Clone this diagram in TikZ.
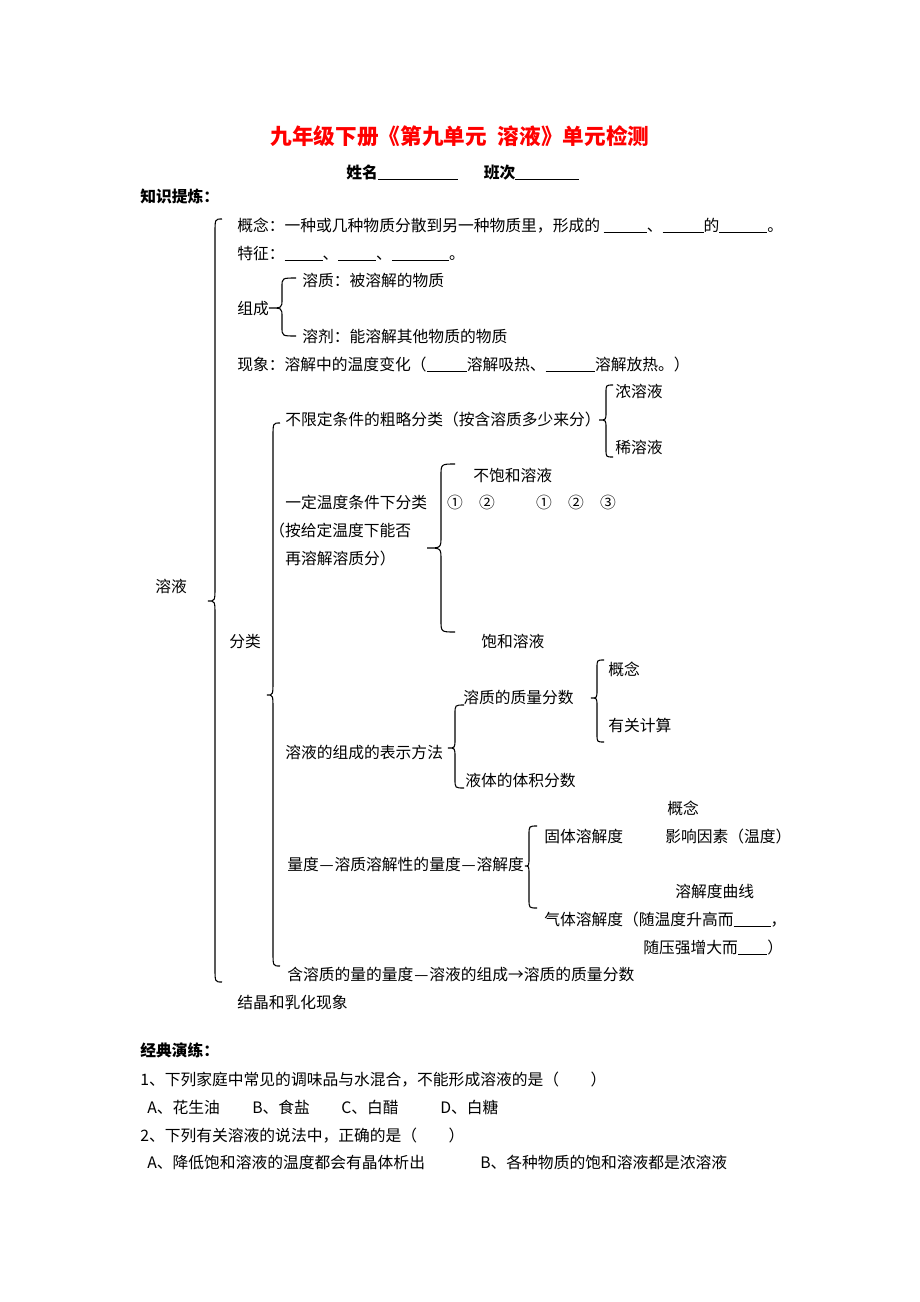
\documentclass[tikz,border=0pt]{standalone}
\usepackage{fontspec}
\setmainfont{Noto Sans CJK SC}
\usepackage{tikz}

\newcommand{\blankfill}[1]{\rule[-1pt]{#1pt}{0.5pt}}
\newcommand{\wdash}{\makebox[1em]{—}}
\newcommand{\warrow}{\makebox[1em]{→}}
% curly brace: end x, shaft x, tip x, top y, tip y, bottom y, radius
\newcommand{\drawbrace}[7]{%
  \draw[bline] (#1,#4) .. controls (#2,#4) .. (#2,{#4+#7}) -- (#2,{#5-#7})
    .. controls (#2,#5) .. (#3,#5) .. controls (#2,#5) .. (#2,{#5+#7})
    -- (#2,{#6-#7}) .. controls (#2,#6) .. (#1,#6);}

\begin{document}
\begin{tikzpicture}[
    x=0.6467pt, y=-0.6467pt,
    txt/.style = {anchor=base west, inner sep=0pt, font=\fontsize{10.2}{12}\selectfont},
    head/.style = {txt, font=\fontsize{10.2}{12}\selectfont\bfseries},
    bline/.style = {line width=0.7pt}
  ]
  \useasboundingbox (0,0) rectangle (920,1302);

  % heading
  \node[anchor=base, inner sep=0pt, text=red, font=\fontsize{14}{16}\selectfont\bfseries] (title) at (460,144) {九年级下册《第九单元\hspace{0.5em}溶液》单元检测};
  \node[head] (student) at (346,178) {姓名\blankfill{52}\hspace{16.5pt}班次\blankfill{41}};
  \node[head] (zhishi) at (140,202) {知识提炼：};

  % first group
  \node[txt] (gainian) at (237,231) {概念：一种或几种物质分散到另一种物质里，形成的 \blankfill{28}、\blankfill{26.5}的\blankfill{31}。};
  \node[txt] (tezheng) at (237,259) {特征：\blankfill{24.5}、\blankfill{24.5}、\blankfill{37}。};
  \node[txt] (rongzhi) at (302,286) {溶质：被溶解的物质};
  \node[txt] (zucheng) at (237,314) {组成};
  \node[txt] (rongji) at (302,342) {溶剂：能溶解其他物质的物质};
  \node[txt] (xianxiang) at (237,370) {现象：溶解中的温度变化（\blankfill{26}溶解吸热、\blankfill{32}溶解放热。）};

  % classification
  \node[txt] (nong) at (615,397) {浓溶液};
  \node[txt] (culue) at (285,425) {不限定条件的粗略分类（按含溶质多少来分）};
  \node[txt] (xi) at (615,453) {稀溶液};
  \node[txt] (bubaohe) at (473,481) {不饱和溶液};
  \node[txt] (yiding) at (285,508) {一定温度条件下分类};
  \node[txt, anchor=base] (c1) at (455,508) {①};
  \node[txt, anchor=base] (c2) at (487,508) {②};
  \node[txt, anchor=base] (c3) at (544,508) {①};
  \node[txt, anchor=base] (c4) at (576,508) {②};
  \node[txt, anchor=base] (c5) at (608,508) {③};
  \node[txt] (anji) at (269,536) {（按给定温度下能否};
  \node[txt] (zairong) at (285,564) {再溶解溶质分）};
  \node[txt] (rongye) at (155,592) {溶液};
  \node[txt] (fenlei) at (229,647) {分类};
  \node[txt] (baohe) at (481,647) {饱和溶液};

  % composition
  \node[txt] (gn2) at (608,675) {概念};
  \node[txt] (zhiliang) at (463,703) {溶质的质量分数};
  \node[txt] (jisuan) at (608,731) {有关计算};
  \node[txt] (biaoshi) at (285,758) {溶液的组成的表示方法};
  \node[txt] (tiji) at (465,786) {液体的体积分数};

  % solubility
  \node[txt] (gn3) at (667,814) {概念};
  \node[txt] (guti) at (544,842) {固体溶解度};
  \node[txt] (yingxiang) at (665,842) {影响因素（温度）};
  \node[txt] (liangdu) at (287,870) {量度\wdash 溶质溶解性的量度\wdash 溶解度};
  \node[txt] (quxian) at (675,897) {溶解度曲线};
  \node[txt] (qiti) at (544,925) {气体溶解度（随温度升高而\blankfill{24}，};
  \node[txt] (yaqiang) at (643,953) {随压强增大而\blankfill{19}）};
  \node[txt] (hanliang) at (287,980) {含溶质的量的量度\wdash 溶液的组成\warrow 溶质的质量分数};
  \node[txt] (jiejing) at (237,1008) {结晶和乳化现象};

  % braces
  \drawbrace{222}{215}{208}{219}{601}{982}{14}
  \drawbrace{280}{273}{267}{423}{695}{966}{14}
  \drawbrace{296}{282}{269}{278}{308}{336}{9}
  \drawbrace{613}{606}{599}{385}{420}{457}{8}
  \drawbrace{455}{441}{427}{464}{548}{632}{12}
  \drawbrace{464}{455}{448}{705}{748}{788}{9}
  \drawbrace{604}{597}{591}{660}{698}{742}{8}
  \drawbrace{537}{529}{525}{826}{866}{908}{9}

  % exercises
  \node[head] (jingdian) at (140,1056) {经典演练：};
  \node[txt] (q1) at (140,1085) {1、下列家庭中常见的调味品与水混合，不能形成溶液的是（\hspace{2em}）};
  \node[txt] (q1a) at (147,1113) {A、花生油};
  \node[txt] (q1b) at (252,1113) {B、食盐};
  \node[txt] (q1c) at (341,1113) {C、白醋};
  \node[txt] (q1d) at (440,1113) {D、白糖};
  \node[txt] (q2) at (140,1141) {2、下列有关溶液的说法中，正确的是（\hspace{2em}）};
  \node[txt] (q2a) at (147,1168) {A、降低饱和溶液的温度都会有晶体析出};
  \node[txt] (q2b) at (480,1168) {B、各种物质的饱和溶液都是浓溶液};
\end{tikzpicture}
\end{document}
